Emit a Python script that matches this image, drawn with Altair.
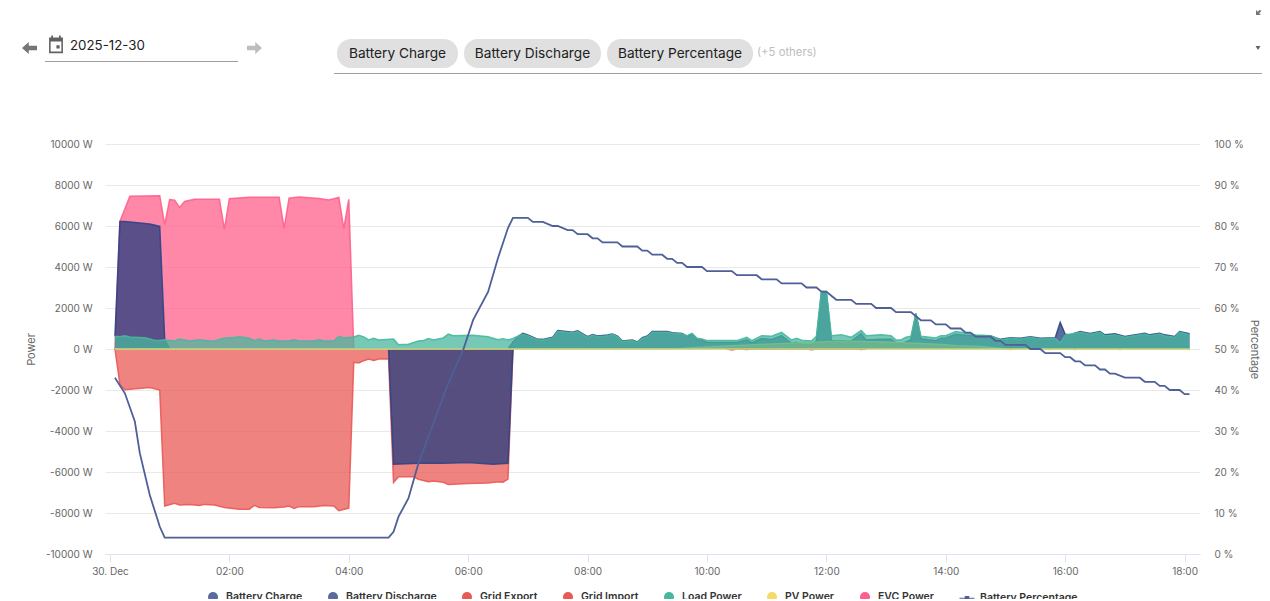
import altair as alt
import pandas as pd

FONT = "Inter"

# ---- data: times are minutes after midnight on 30 Dec (5-minute samples) ----
evc_t = [5, 10, 20, 50, 55, 60, 65, 70, 75, 85, 110, 115, 120, 140, 170, 175, 180, 190, 210, 220, 230, 235, 240, 245]
evc_w = [0, 6230, 7450, 7480, 6070, 7290, 7260, 6900, 7200, 7300, 7300, 5830, 7330, 7400, 7400, 5880, 7360, 7420, 7340, 7270, 7390, 5870, 7300, 0]

discharge_t = [5, 10, 15, 20, 30, 40, 50, 55, 60]
discharge_w = [620, 6220, 6220, 6200, 6150, 6100, 5980, 460, 0]

charge_t = [280, 285, 310, 335, 360, 385, 400, 405]
charge_w = [0, -5620, -5570, -5570, -5540, -5620, -5570, 0]

# the battery's positive series after 06:45
battery_k = [80, 81, 82, 83, 84, 86, 87, 89, 90, 93, 94, 96, 97, 98, 100, 101, 102, 103, 105, 106, 107, 108, 109, 112, 113, 115, 116, 117, 118, 119, 120, 126, 128, 129, 131, 133, 135, 137, 138, 139, 141, 142, 143, 144, 145, 147, 149, 151, 152, 155, 157, 158, 159, 160, 161, 162, 163, 166, 167, 168, 170, 172, 174, 177, 179, 181, 183, 185, 187, 190, 191, 192, 193, 195, 197, 199, 200, 202, 204, 208, 209, 211, 212, 214, 215, 217]
battery_w = [0, 340, 600, 760, 680, 470, 470, 570, 900, 820, 890, 600, 710, 630, 680, 730, 630, 390, 440, 340, 550, 630, 850, 850, 790, 760, 620, 730, 480, 430, 330, 320, 450, 300, 510, 460, 650, 270, 330, 220, 200, 400, 2750, 2750, 400, 400, 380, 740, 440, 480, 480, 300, 250, 350, 450, 1700, 500, 400, 520, 540, 720, 670, 640, 640, 470, 550, 520, 600, 520, 550, 1300, 720, 700, 850, 760, 850, 690, 740, 610, 770, 690, 770, 690, 610, 850, 740]

import_k = [1, 2, 3, 8, 10, 11, 13, 14, 16, 18, 19, 21, 23, 26, 28, 29, 30, 33, 35, 36, 37, 38, 41, 43, 45, 46, 48, 49, 50, 51, 52, 53, 54, 56, 57, 58, 61, 62, 64, 65, 67, 68, 72, 76, 78, 79, 80, 81]
import_w = [0, -1730, -1990, -1880, -2000, -7660, -7530, -7610, -7580, -7630, -7580, -7610, -7730, -7820, -7820, -7630, -7730, -7740, -7710, -7660, -7780, -7690, -7690, -7630, -7660, -7890, -7760, -650, -685, -570, -490, -555, -490, -490, -6510, -6230, -6230, -6350, -6470, -6440, -6500, -6610, -6560, -6540, -6470, -6500, -6350, 0]

export_k = [124, 125, 126, 127, 128, 129, 140, 141, 142, 150, 151, 152]
export_w = [0, -50, 0, 0, -30, 0, 0, -40, 0, 0, -30, 0]

load_k = [1, 2, 3, 4, 7, 8, 9, 10, 11, 12, 13, 14, 16, 18, 20, 21, 23, 25, 26, 28, 29, 30, 31, 33, 34, 36, 37, 38, 41, 42, 43, 45, 46, 47, 49, 50, 51, 52, 53, 54, 57, 58, 60, 62, 63, 64, 65, 67, 68, 69, 73, 76, 78, 79, 80, 81, 82, 83, 84, 86, 87, 89, 90, 93, 94, 96, 97, 98, 100, 101, 102, 103, 105, 106, 107, 108, 109, 112, 113, 115, 116, 117, 118, 119, 120, 126, 128, 129, 131, 133, 135, 137, 138, 139, 141, 142, 143, 144, 145, 147, 149, 151, 152, 155, 157, 158, 159, 160, 161, 162, 163, 166, 167, 168, 170, 172, 174, 177, 179, 181, 183, 185, 187, 190, 191, 192, 195, 197, 199, 200, 202, 204, 208, 209, 211, 212, 214, 215, 217]
load_w = [620, 600, 650, 590, 550, 490, 420, 420, 450, 420, 390, 490, 390, 455, 390, 390, 540, 555, 600, 520, 410, 490, 390, 440, 390, 390, 455, 390, 390, 455, 390, 390, 620, 540, 590, 670, 590, 440, 520, 440, 490, 210, 230, 390, 410, 505, 440, 540, 730, 650, 670, 600, 455, 505, 440, 520, 620, 720, 650, 440, 440, 540, 860, 780, 850, 570, 680, 600, 650, 700, 600, 360, 410, 310, 520, 600, 815, 815, 765, 730, 650, 765, 520, 490, 410, 410, 570, 410, 650, 620, 815, 440, 520, 425, 390, 620, 2800, 2800, 650, 700, 570, 900, 650, 700, 650, 440, 440, 570, 620, 1745, 620, 540, 650, 650, 850, 780, 685, 650, 440, 520, 490, 570, 490, 520, 290, 680, 815, 720, 815, 650, 700, 570, 730, 650, 730, 650, 570, 815, 700]

pv_k = [1, 90, 100, 115, 121, 131, 141, 146, 151, 158, 168, 170, 175, 179, 180, 181, 182, 188, 189, 190, 193, 194, 195, 202, 203, 204, 216, 217]
pv_w = [0, 10, 20, 30, 115, 230, 325, 390, 375, 325, 210, 160, 130, 30, 0, -40, 0, 0, -40, 0, 0, -40, 0, 0, -40, 0, 0, -40]

pct_k = [1, 3, 5, 6, 8, 10, 11, 56, 57, 58, 60, 62, 65, 68, 71, 73, 76, 78, 80, 81, 84, 85, 87, 89, 90, 92, 93, 94, 96, 97, 98, 99, 102, 103, 106, 107, 108, 109, 111, 112, 113, 114, 115, 116, 119, 120, 125, 126, 130, 131, 134, 135, 139, 140, 142, 143, 144, 145, 146, 149, 150, 153, 154, 157, 158, 161, 162, 163, 165, 166, 168, 169, 171, 172, 173, 174, 177, 178, 179, 180, 184, 185, 187, 188, 191, 192, 193, 194, 195, 196, 198, 199, 200, 201, 202, 204, 207, 208, 210, 211, 212, 213, 215, 216, 217]
pct_v = [43, 39.2, 32.3, 24.6, 14.4, 6.7, 4, 4, 5.4, 9.1, 13.6, 22.1, 31.9, 41.6, 49.8, 57.1, 63.9, 72.2, 79.5, 82, 82, 81, 81, 80, 80, 79, 79, 78, 78, 77, 77, 76, 76, 75, 75, 74, 74, 73, 73, 72, 72, 71, 71, 70, 70, 69, 69, 68, 68, 67, 67, 66, 66, 65, 65, 64, 64, 63, 62, 62, 61, 61, 60, 60, 59, 59, 58, 57, 57, 56, 56, 55, 55, 54, 54, 53, 53, 52, 52, 51, 51, 50, 50, 49, 49, 48, 48, 47, 47, 46, 46, 45, 45, 44, 44, 43, 43, 42, 42, 41, 41, 40, 40, 39, 39]

series_names = ["Battery Charge", "Battery Discharge", "Grid Export", "Grid Import", "Load Power", "PV Power", "EVC Power", "Battery Percentage"]
series_colors = ["#5b6b9f", "#5b6b9f", "#e95955", "#e95955", "#48b79d", "#f7d965", "#ff5f8b", "#4f5f98"]
series_shapes = ["circle"] * 7 + ["M-1.5,-0.12H1.5V0.12H-1.5Z M-0.45,-0.45H0.45V0.45H-0.45Z"]

power_ticks = [-10000, -8000, -6000, -4000, -2000, 0, 2000, 4000, 6000, 8000, 10000]
pct_ticks = [0, 10, 20, 30, 40, 50, 60, 70, 80, 90, 100]
time_ticks = [0, 120, 240, 360, 480, 600, 720, 840, 960, 1080]

chips = ["Battery Charge", "Battery Discharge", "Battery Percentage"]

# ---- layout constants (page pixels) ----
PLOT_L, PLOT_T = 105, 144
PW, PH = 1095, 410
X_DOM = [-5, 1095.5]
Y_DOM = [-10000, 10000]


def px(v):
    return alt.value(v - PLOT_L)


def py(v):
    return alt.value(v - PLOT_T)


one = pd.DataFrame({"a": [0]})

x_axis = alt.Axis(
    values=time_ticks,
    labelExpr="datum.value == 0 ? '30. Dec' : timeFormat(datetime(2025, 11, 30, 0, datum.value), '%H:%M')",
    title=None, grid=False, domainColor="#dfe3f1", tickColor="#dfe3f1", tickSize=8,
    labelColor="#666666", labelFont=FONT, labelFontSize=10, labelPadding=4, labelFlush=False,
)
y_axis = alt.Axis(
    orient="left", values=power_ticks, labelExpr="datum.value + ' W'", title="Power",
    titleColor="#666666", titleFont=FONT, titleFontSize=11, titleFontWeight="normal", titlePadding=9,
    grid=True, gridColor="#e9e9e9", gridWidth=1, domain=False, ticks=False,
    labelColor="#666666", labelFont=FONT, labelFontSize=10, labelPadding=13,
)
x_enc = alt.X("t:Q", scale=alt.Scale(domain=X_DOM, nice=False, zero=False), axis=x_axis)
y_plain = alt.Y("v:Q", scale=alt.Scale(domain=Y_DOM, nice=False, zero=False), axis=None)


def area(t, w, fill, stroke, sw=1.5, y_enc=y_plain):
    d = pd.DataFrame({"t": t, "v": w})
    return alt.Chart(d).mark_area(
        color=fill, opacity=0.75, clip=True,
        line={"color": stroke, "strokeWidth": sw, "opacity": 0.9}, interpolate="linear",
    ).encode(x=x_enc, y=y_enc)


mins = lambda ks: [k * 5 for k in ks]

y_first = alt.Y("v:Q", scale=alt.Scale(domain=Y_DOM, nice=False, zero=False), axis=y_axis)

# the PV series lies on the zero line all day; its stroke stays visible above the other fills
zero_line = alt.Chart(pd.DataFrame({"t": [mins(pv_k)[0]], "t2": [mins(pv_k)[-1]], "v": [0]})).mark_rule(
    color="#c9d27c", strokeWidth=1.3
).encode(
    x=x_enc, x2="t2:Q", y=y_plain,
)

layers = [
    area(evc_t, evc_w, "#ff5f8b", "#ff5f8b", y_enc=y_first),
    area(mins(import_k), import_w, "#e95955", "#e95955"),
    area(mins(export_k), export_w, "#e95955", "#e95955"),
    area(charge_t, charge_w, "#233c7d", "#2f4488"),
    area(discharge_t, discharge_w, "#233c7d", "#2f4488"),
    area(mins(battery_k), battery_w, "#233c7d", "#2f4488"),
    area(mins(pv_k), pv_w, "#f7b955", "#f7d965", 1.2),
    area(mins(load_k), load_w, "#48b79d", "#48b79d"),
    zero_line,
]

pct_line = alt.Chart(pd.DataFrame({"t": mins(pct_k), "p": pct_v})).mark_line(
    color="#4f5f98", strokeWidth=1.8
).encode(
    x=x_enc,
    y=alt.Y("p:Q", scale=alt.Scale(domain=[0, 100], nice=False, zero=False), axis=alt.Axis(
        orient="right", values=pct_ticks, labelExpr="datum.value + ' %'", title="Percentage",
        titleColor="#666666", titleFont=FONT, titleFontSize=11, titleFontWeight="normal", titlePadding=5,
        grid=False, domain=False, ticks=False,
        labelColor="#666666", labelFont=FONT, labelFontSize=10, labelPadding=14,
    )),
)
layers.append(pct_line)

legend_spec = dict(
    orient="none", legendX=207 - PLOT_L, legendY=591 - PLOT_T, direction="horizontal", columns=8,
    title=None, symbolOpacity=1, symbolSize=100, labelFont=FONT, labelFontSize=10.5,
    labelFontWeight=600, labelColor="#333333", columnPadding=22, labelOffset=7,
)
legend_layer = alt.Chart(pd.DataFrame({"series": series_names})).mark_point(
    filled=True, opacity=0, size=100
).encode(
    x=alt.value(-200), y=alt.value(-200),
    color=alt.Color("series:N", scale=alt.Scale(domain=series_names, range=series_colors), legend=alt.Legend(**legend_spec)),
    shape=alt.Shape("series:N", scale=alt.Scale(domain=series_names, range=series_shapes), legend=alt.Legend(**legend_spec)),
)
layers.append(legend_layer)


# ---- page furniture above the chart ----
def text(x, y, s, size, color, align="left", weight="normal"):
    return alt.Chart(one).mark_text(
        text=s, fontSize=size, color=color, align=align, baseline="middle", font=FONT, fontWeight=weight
    ).encode(x=px(x), y=py(y))


def hline(x1, x2, y, color="#9e9e9e"):
    return alt.Chart(one).mark_rule(color=color, strokeWidth=1).encode(x=px(x1), x2=px(x2), y=py(y))


def pill(x1, x2, y1, y2):
    return alt.Chart(one).mark_rect(color="#e0e0e0", cornerRadius=14).encode(
        x=px(x1), x2=px(x2), y=py(y1), y2=py(y2)
    )


def glyph(x, y, path, color, size):
    return alt.Chart(one).mark_point(shape=path, filled=True, color=color, opacity=1, size=size, strokeWidth=0).encode(
        x=px(x), y=py(y)
    )


ARROW_L = "M-1,0L-0.1,-0.8V-0.3H1V0.3H-0.1V0.8Z"
ARROW_R = "M1,0L0.1,-0.8V-0.3H-1V0.3H0.1V0.8Z"
CALENDAR = ("M-0.8,-0.8H-0.55V-1.05H-0.35V-0.8H0.35V-1.05H0.55V-0.8H0.8V1H-0.8Z"
            "M-0.62,-0.35V0.82H0.62V-0.35Z M0.05,0.1H0.42V0.47H0.05Z")
FULL = "M-1,1V0.3L-0.75,0.55L-0.45,0.25L-0.25,0.45L-0.55,0.75L-0.3,1Z M1,1V0.3L0.75,0.55L0.45,0.25L0.25,0.45L0.55,0.75L0.3,1Z"

layers += [
    glyph(29.5, 48, ARROW_L, "#757575", 225),
    glyph(254.5, 48, ARROW_R, "#bdbdbd", 225),
    glyph(56, 44.5, CALENDAR, "#616161", 300),
    text(70, 46, "2025-12-30", 13.3, "#212121"),
    hline(45, 238, 61.5),
    pill(337, 458, 39, 68),
    pill(464, 601, 39, 68),
    pill(607, 753, 39, 68),
    text(397.5, 53.5, chips[0], 13.7, "#212121", "center"),
    text(532.5, 53.5, chips[1], 13.7, "#212121", "center"),
    text(680, 53.5, chips[2], 13.7, "#212121", "center"),
    text(757, 53, "(+5 others)", 11.3, "#bdbdbd"),
    hline(334, 1262, 73.5),
    alt.Chart(one).mark_point(shape="triangle-down", filled=True, color="#616161", opacity=1, size=24).encode(
        x=px(1258), y=py(48)
    ),
    glyph(1263, 8, FULL, "#757575", 196),
]

chart = alt.layer(*layers).resolve_scale(y="independent").properties(
    width=PW, height=PH,
    autosize=alt.AutoSizeParams(type="none"),
    padding={"left": PLOT_L - 8, "top": PLOT_T - 8, "right": 62, "bottom": 45},
    background="white",
).configure_view(stroke=None)

chart.save("out.html", embed_options={"renderer": "svg", "actions": False})
